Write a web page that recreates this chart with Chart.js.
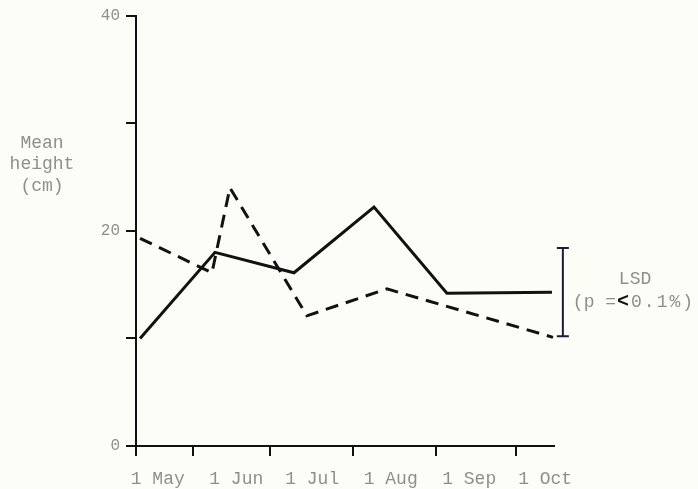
<!DOCTYPE html>
<html>
<head>
<meta charset="utf-8">
<style>
  html, body { margin: 0; padding: 0; background: #fdfdf7; }
  canvas { display: block; }
</style>
<script src="https://cdn.jsdelivr.net/npm/chart.js@4/dist/chart.umd.min.js"></script>
</head>
<body>
<canvas id="chart" width="698" height="489"></canvas>
<script>
// Days counted from 1 May
const monthLabels = ['1 May', '1 Jun', '1 Jul', '1 Aug', '1 Sep', '1 Oct'];
const monthDays = [0, 31, 61, 92, 123, 153];
const tickDays = [-8.6, 13.9, 44.3, 77.1, 109.9, 141.5];
const dayMin = -8.6;
const dayMax = 156.5;

const heightTicks = [0, 10, 20, 30, 40];

// Solid line
const solidDays = [-7.0, 22.6, 53.8, 85.4, 114.2, 155.7];
const solidHeight = [10.0, 18.0, 16.1, 22.2, 14.2, 14.3];

// Dashed line
const dashedDays = [-7.0, 21.4, 28.5, 58.9, 90.5, 156.1];
const dashedHeight = [19.3, 16.1, 24.0, 12.1, 14.6, 10.1];

// Least significant difference bar
const lsdDay = 160.0;
const lsdLow = 10.2;
const lsdHigh = 18.4;

const INK = '#111111';
const FADED = '#8e8e8e';
const TYPE = '"Liberation Mono", "DejaVu Sans Mono", monospace';

const toPoints = (xs, ys) => xs.map((x, i) => ({ x: x, y: ys[i] }));

const annotations = {
  id: 'annotations',
  afterDraw(chart) {
    const ctx = chart.ctx;
    const xs = chart.scales.x;
    const ys = chart.scales.y;
    ctx.save();

    // LSD bar with caps
    const bx = xs.getPixelForValue(lsdDay);
    const yTop = ys.getPixelForValue(lsdHigh);
    const yBot = ys.getPixelForValue(lsdLow);
    ctx.strokeStyle = '#1c1c3a';
    ctx.lineWidth = 2;
    ctx.beginPath();
    ctx.moveTo(bx, yTop);
    ctx.lineTo(bx, yBot);
    ctx.moveTo(bx - 6, yTop);
    ctx.lineTo(bx + 6, yTop);
    ctx.moveTo(bx - 6, yBot);
    ctx.lineTo(bx + 6, yBot);
    ctx.stroke();

    // LSD caption
    ctx.font = '18px ' + TYPE;
    ctx.textBaseline = 'middle';
    ctx.textAlign = 'left';
    ctx.fillStyle = FADED;
    ctx.fillText('LSD', bx + 56, yTop + 31);
    const ly = yTop + 54;
    let lx = bx + 10;
    const part1 = '(p =';
    ctx.fillText(part1, lx, ly);
    lx += ctx.measureText(part1).width + 1;
    ctx.font = 'bold 20px ' + TYPE;
    ctx.fillStyle = INK;
    ctx.fillText('<', lx, ly);
    lx += ctx.measureText('<').width + 2;
    ctx.font = '18px ' + TYPE;
    ctx.fillStyle = FADED;
    ctx.letterSpacing = '2px';
    ctx.fillText('0.1%)', lx, ly);
    ctx.letterSpacing = '0px';

    // Y axis title
    ctx.textAlign = 'center';
    ctx.fillText('Mean', 42, 143);
    ctx.fillText('height', 42, 164);
    ctx.fillText('(cm)', 42, 186);

    ctx.restore();
  }
};

new Chart(document.getElementById('chart'), {
  type: 'line',
  data: {
    datasets: [
      {
        data: toPoints(solidDays, solidHeight),
        borderColor: INK,
        borderWidth: 3,
        pointRadius: 0,
        tension: 0,
        clip: false
      },
      {
        data: toPoints(dashedDays, dashedHeight),
        borderColor: INK,
        borderWidth: 3,
        borderDash: [13, 8],
        pointRadius: 0,
        tension: 0,
        clip: false
      }
    ]
  },
  options: {
    responsive: false,
    animation: false,
    layout: { padding: { top: 15, right: 144, left: 0, bottom: 0 } },
    plugins: {
      legend: { display: false },
      tooltip: { enabled: false }
    },
    scales: {
      x: {
        type: 'linear',
        position: 'bottom',
        weight: 0,
        min: dayMin,
        max: dayMax,
        afterBuildTicks: (s) => { s.ticks = tickDays.map(v => ({ value: v })); },
        afterFit: (s) => { s.height = 11; },
        border: { display: true, color: INK, width: 2 },
        grid: { drawOnChartArea: false, drawTicks: true, tickLength: 10, color: INK, lineWidth: 2 },
        ticks: { display: false }
      },
      xl: {
        type: 'linear',
        position: 'bottom',
        weight: 1,
        min: dayMin,
        max: dayMax,
        afterBuildTicks: (s) => { s.ticks = monthDays.map(v => ({ value: v })); },
        afterFit: (s) => { s.height = 32; },
        border: { display: false },
        grid: { display: false, drawTicks: false },
        ticks: {
          autoSkip: false,
          maxRotation: 0,
          minRotation: 0,
          padding: 11,
          color: FADED,
          font: { family: TYPE, size: 18 },
          callback: (v, i) => monthLabels[i]
        }
      },
      y: {
        type: 'linear',
        min: 0,
        max: 40,
        afterBuildTicks: (s) => { s.ticks = heightTicks.map(v => ({ value: v })); },
        afterFit: (s) => { s.width = 136; },
        border: { display: true, color: INK, width: 2 },
        grid: { drawOnChartArea: false, drawTicks: true, tickLength: 10, color: INK, lineWidth: 2 },
        ticks: {
          padding: 6,
          color: FADED,
          font: { family: TYPE, size: 16 },
          callback: (v) => (v % 20 === 0 ? String(v) : '')
        }
      }
    }
  },
  plugins: [annotations]
});
</script>
</body>
</html>
